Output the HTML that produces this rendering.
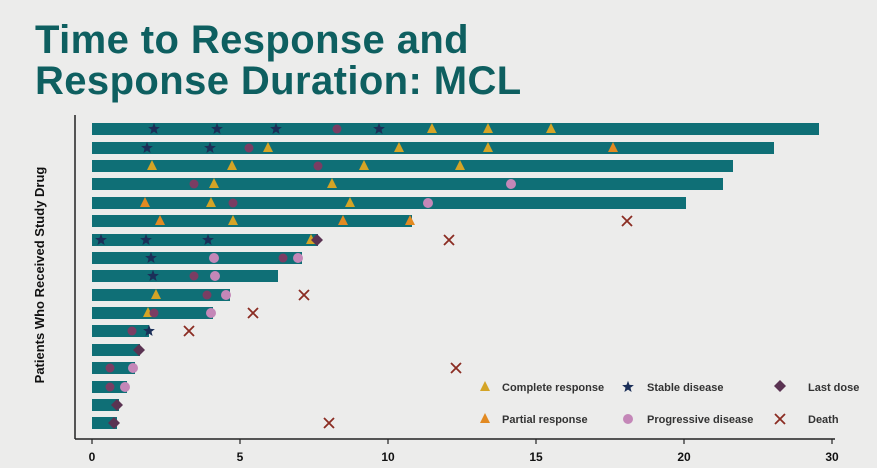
<!DOCTYPE html>
<html><head><meta charset="utf-8"><style>
html,body{margin:0;padding:0;background:#ececeb;}
body{width:877px;height:468px;overflow:hidden;position:relative;font-family:"Liberation Sans",sans-serif;}
.t{position:absolute;left:35px;font-weight:bold;font-size:40px;color:#0e5f60;line-height:41px;letter-spacing:0.4px}
</style></head><body>
<div class="t" style="top:20px">Time to Response and<br>Response Duration: MCL</div>
<svg id="s" width="877" height="468" style="position:absolute;left:0;top:0" xmlns="http://www.w3.org/2000/svg">
<line x1="75" y1="115" x2="75" y2="439" stroke="#222" stroke-width="1.5"/>
<line x1="75" y1="439" x2="835" y2="439" stroke="#222" stroke-width="1.5"/>
<text transform="translate(44,275) rotate(-90)" text-anchor="middle" font-family="Liberation Sans" font-weight="bold" font-size="13" fill="#111">Patients Who Received Study Drug</text>
<g id="g"></g>
</svg>
<script>
var g=document.getElementById('g'),h='';
var labs=[0,5,10,15,20,30];
for(var i=0;i<6;i++){var x=92+i*148;h+='<line x1="'+x+'" y1="439" x2="'+x+'" y2="444" stroke="#222" stroke-width="1.2"/><text x="'+x+'" y="461" text-anchor="middle" font-family="Liberation Sans" font-weight="bold" font-size="12" fill="#111">'+labs[i]+'</text>';}
var ys=[129,148,166,184,203,221,240,258,276,295,313,331,350,368,387,405,423];
var ends=[819,774,733,723,686,412,318,302,278,230,213,149,140,135,127,119,117];
for(var i=0;i<17;i++){h+='<rect x="92" y="'+(ys[i]-6)+'" width="'+(ends[i]-92)+'" height="12" fill="#0f6f76"/>';}
function tri(x,y,c){return '<polygon points="'+x+','+(y-6)+' '+(x-5)+','+(y+4)+' '+(x+5)+','+(y+4)+'" fill="'+c+'"/>';}
function star(x,y){var p=[];for(var k=0;k<10;k++){var r=k%2?2.6:6.2,a=-Math.PI/2+k*Math.PI/5;p.push((x+r*Math.cos(a)).toFixed(1)+','+(y+r*Math.sin(a)).toFixed(1));}return '<polygon points="'+p.join(' ')+'" fill="#1b2f58"/>';}
function dot(x,y,c,r){return '<circle cx="'+x+'" cy="'+y+'" r="'+(r||5)+'" fill="'+c+'"/>';}
function dia(x,y){return '<polygon points="'+x+','+(y-6)+' '+(x+6)+','+y+' '+x+','+(y+6)+' '+(x-6)+','+y+'" fill="#5a3352"/>';}
function cross(x,y){return '<path d="M'+(x-5)+' '+(y-5)+'L'+(x+5)+' '+(y+5)+'M'+(x+5)+' '+(y-5)+'L'+(x-5)+' '+(y+5)+'" stroke="#8b2c22" stroke-width="1.8"/>';}
var C='#d4a426',P='#e28a22',D='#7a3d63',K='#c487b8';
var m=[
[['s',154],['s',217],['s',276],['s',379],['d',337],['c',432],['c',488],['c',551]],
[['s',147],['s',210],['d',249],['c',268],['c',399],['c',488],['p',613]],
[['c',152],['c',232],['d',318],['c',364],['c',460]],
[['d',194],['c',214],['c',332],['k',511]],
[['p',145],['c',211],['d',233],['c',350],['k',428]],
[['p',160],['c',233],['p',343],['p',410],['x',627]],
[['s',101],['s',146],['s',208],['c',311],['l',317],['x',449]],
[['s',151],['k',214],['d',283],['k',298]],
[['s',153],['d',194],['k',215]],
[['c',156],['d',207],['k',226],['x',304]],
[['c',148],['d',154],['k',211],['x',253]],
[['d',132],['s',149],['x',189]],
[['l',139]],
[['d',110],['k',133],['x',456]],
[['d',110],['k',125]],
[['l',117]],
[['l',114],['x',329]]];
for(var i=0;i<17;i++){var y=ys[i];m[i].forEach(function(e){var t=e[0],x=e[1];
if(t=='s')h+=star(x,y);else if(t=='c')h+=tri(x,y,C);else if(t=='p')h+=tri(x,y,P);else if(t=='d')h+=dot(x,y,D,4.5);else if(t=='k')h+=dot(x,y,K,5);else if(t=='l')h+=dia(x,y);else h+=cross(x,y);});}
function lt(x,y,s){return '<text x="'+x+'" y="'+(y+4)+'" font-family="Liberation Sans" font-weight="bold" font-size="11" fill="#333">'+s+'</text>';}
h+=tri(485,387,C)+lt(502,387,'Complete response')+star(628,387)+lt(647,387,'Stable disease')+dia(780,386)+lt(808,387,'Last dose');
h+=tri(485,419,P)+lt(502,419,'Partial response')+dot(628,419,K,5)+lt(647,419,'Progressive disease')+cross(780,419)+lt(808,419,'Death');
g.innerHTML=h;
</script>
</body></html>
